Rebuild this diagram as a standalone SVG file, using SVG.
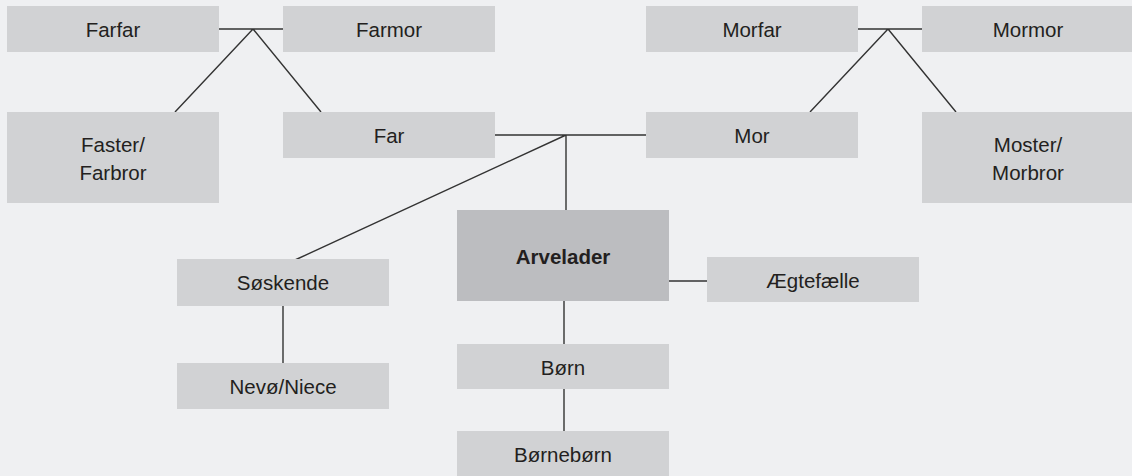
<svg xmlns="http://www.w3.org/2000/svg" width="1132" height="476" viewBox="0 0 1132 476">
<style>
.bg{fill:#eff0f2}
.box{fill:#d1d2d4}
.main{fill:#bcbdc0}
.t{font-family:"Liberation Sans",Arial,sans-serif;font-size:20.5px;fill:#231f20;text-anchor:middle}
.b{font-weight:bold}
.ln{stroke:#333;stroke-width:1.4;fill:none}
</style>
<rect class="bg" x="0" y="0" width="1132" height="476"/>
<g id="connectors">
<path class="ln" d="M219,29H283M253,29L175,112M253,29L321,112"/>
<path class="ln" d="M858,29H922M888,29L810,112M888,29L956,112"/>
<path class="ln" d="M495,135H646M566,135V210M566,135L295,260"/>
<path class="ln" d="M669,281H707"/>
<path class="ln" d="M283,306V363"/>
<path class="ln" d="M564,301V344M564,389V431"/>
</g>
<g id="farfar"><rect class="box" x="7" y="6" width="212" height="46"/><text class="t" x="113" y="37">Farfar</text></g>
<g id="farmor"><rect class="box" x="283" y="6" width="212" height="46"/><text class="t" x="389" y="37">Farmor</text></g>
<g id="morfar"><rect class="box" x="646" y="6" width="212" height="46"/><text class="t" x="752" y="37">Morfar</text></g>
<g id="mormor"><rect class="box" x="922" y="6" width="212" height="46"/><text class="t" x="1028" y="37">Mormor</text></g>
<g id="faster"><rect class="box" x="7" y="112" width="212" height="91"/><text class="t" x="113" y="152">Faster/</text><text class="t" x="113" y="180">Farbror</text></g>
<g id="far"><rect class="box" x="283" y="112" width="212" height="46"/><text class="t" x="389" y="143">Far</text></g>
<g id="mor"><rect class="box" x="646" y="112" width="212" height="46"/><text class="t" x="752" y="143">Mor</text></g>
<g id="moster"><rect class="box" x="922" y="112" width="212" height="91"/><text class="t" x="1028" y="152">Moster/</text><text class="t" x="1028" y="180">Morbror</text></g>
<g id="arvelader"><rect class="main" x="457" y="210" width="212" height="91"/><text class="t b" x="563" y="264">Arvelader</text></g>
<g id="soskende"><rect class="box" x="177" y="259" width="212" height="47"/><text class="t" x="283" y="290">Søskende</text></g>
<g id="aegtefaelle"><rect class="box" x="707" y="257" width="212" height="45"/><text class="t" x="813" y="288">Ægtefælle</text></g>
<g id="nevo"><rect class="box" x="177" y="363" width="212" height="46"/><text class="t" x="283" y="394">Nevø/Niece</text></g>
<g id="born"><rect class="box" x="457" y="344" width="212" height="45"/><text class="t" x="563" y="375">Børn</text></g>
<g id="bornebom"><rect class="box" x="457" y="431" width="212" height="45"/><text class="t" x="563" y="462">Børnebørn</text></g>
</svg>
